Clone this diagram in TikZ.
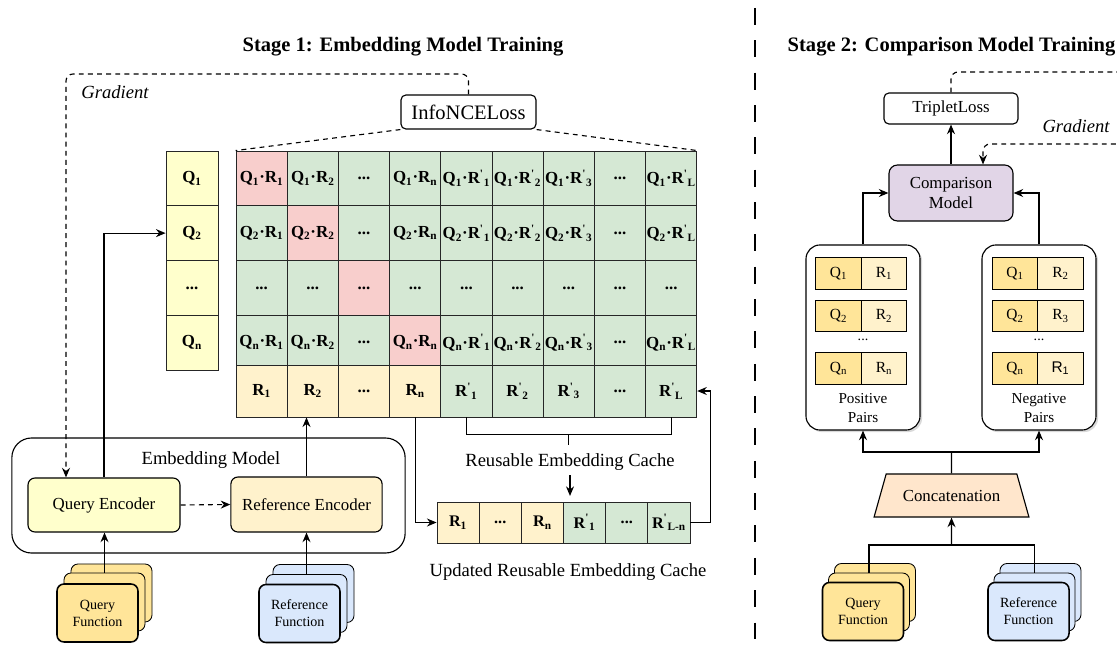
\documentclass[tikz,border=0pt]{standalone}
\usepackage{fontspec}
\setmainfont{Liberation Serif}
\newfontfamily\sansf{Liberation Sans}
\usepackage{tikz}
\usetikzlibrary{arrows.meta, positioning, calc, shapes.geometric, shadows}
\definecolor{qyel}{HTML}{FFFFCC}
\definecolor{ryel}{HTML}{FFF2CC}
\definecolor{grnc}{HTML}{D5E8D4}
\definecolor{redc}{HTML}{F8CECC}
\definecolor{qfun}{HTML}{FFE599}
\definecolor{bfun}{HTML}{DAE8FC}
\definecolor{cmpc}{HTML}{E1D5E7}
\definecolor{catc}{HTML}{FFE6CC}
\newcommand\pr{\textsuperscript{\textquotesingle}}
\newcommand\dts{...}

\begin{document}
\begin{tikzpicture}[
  x=0.025cm, y=-0.025cm,
  font=\fontsize{12}{14}\selectfont,
  ln/.style={line width=0.8pt},
  ar/.style={ln, -{Stealth[length=2.4mm, width=2mm]}},
  grad/.style={ln, dash pattern=on 3.5pt off 3pt, rounded corners=5pt},
  ttl/.style={font=\fontsize{14.6}{17}\selectfont\bfseries},
  lbl/.style={font=\fontsize{13.2}{15}\selectfont},
  cell/.style={draw=black!85, line width=0.6pt, minimum width=1.28cm,
               minimum height=1.369cm, inner sep=0pt,
               font=\fontsize{12}{13}\selectfont\bfseries},
  qcell/.style={cell, fill=qyel, minimum width=1.3cm},
  rcell/.style={cell, minimum height=1.3cm},
  ucell/.style={cell, minimum width=1.055cm, minimum height=1.025cm,
                font=\fontsize{11.5}{13}\selectfont\bfseries},
  box/.style={draw, ln, rounded corners=5pt, align=center},
  fun/.style={box, line width=1.1pt, minimum width=2.025cm, minimum height=1.45cm,
              font=\fontsize{10}{12}\selectfont},
  funb/.style={fun, line width=0.6pt},
  pcell/.style={draw, ln, minimum width=1.14cm, minimum height=0.78cm, inner sep=0pt,
                font=\fontsize{11}{12}\selectfont},
  pairs/.style={box, rounded corners=10pt, minimum width=2.85cm, minimum height=4.625cm,
                fill=white, drop shadow={opacity=0.3, shadow xshift=1.5pt, shadow yshift=-1.5pt}}
]
\useasboundingbox (0,0) rectangle (1117,649);

% ================= divider =================
\draw[line width=1.8pt, dash pattern=on 12pt off 11pt] (755,8) -- (755,649);

% ================= STAGE 1 =================
\node[ttl] (t1) at (403,47) {Stage 1: Embedding Model Training};

\node[box, rounded corners=3.5pt, minimum width=3.375cm, minimum height=0.85cm,
      font=\fontsize{14.6}{17}\selectfont] (nce) at (468.5,112) {InfoNCELoss};

% --- query column ---
\foreach \r/\t in {1/Q\textsubscript{1}, 2/Q\textsubscript{2}, 3/\dts, 4/Q\textsubscript{n}}
  \node[qcell] (q\r) at (192, {151+54.75*(\r-0.5)}) {\t};

% --- similarity matrix ---
\foreach \r/\q in {1/1, 2/2, 4/n} {
  \foreach \c/\t in {1/{Q\textsubscript{\q}·R\textsubscript{1}}, 2/{Q\textsubscript{\q}·R\textsubscript{2}},
                     3/\dts, 4/{Q\textsubscript{\q}·R\textsubscript{n}},
                     5/{Q\textsubscript{\q}·R\pr\textsubscript{1}}, 6/{Q\textsubscript{\q}·R\pr\textsubscript{2}},
                     7/{Q\textsubscript{\q}·R\pr\textsubscript{3}}, 8/\dts,
                     9/{Q\textsubscript{\q}·R\pr\textsubscript{L}}} {
    \ifnum\r=\c \def\cf{redc}\else\def\cf{grnc}\fi
    \node[cell, fill=\cf] (m-\r-\c) at ({236+51.2*(\c-0.5)}, {151+54.75*(\r-0.5)}) {\t};
  }
}
\foreach \c in {1,...,9} {
  \ifnum\c=3 \def\cf{redc}\else\def\cf{grnc}\fi
  \node[cell, fill=\cf] (m-3-\c) at ({236+51.2*(\c-0.5)}, {151+54.75*2.5}) {\dts};
}

\draw[ln, dash pattern=on 3.5pt off 3pt] (nce.south west) -- (m-1-1.north west);
\draw[ln, dash pattern=on 3.5pt off 3pt] (nce.south east) -- (m-1-9.north east);

% --- reference row ---
\foreach \c/\t/\f in {1/R\textsubscript{1}/ryel, 2/R\textsubscript{2}/ryel, 3/\dts/ryel,
                      4/R\textsubscript{n}/ryel, 5/R\pr\textsubscript{1}/grnc,
                      6/R\pr\textsubscript{2}/grnc, 7/R\pr\textsubscript{3}/grnc,
                      8/\dts/grnc, 9/R\pr\textsubscript{L}/grnc}
  \node[rcell, fill=\f] (r\c) at ({236+51.2*(\c-0.5)}, 391) {\t};

% --- cache brace ---
\draw[ln] (r5.south) -- ++(0,17) -| (r9.south);
\draw[ln] ($(r5.south)!0.5!(r9.south)$) ++(0,17) -- ++(0,11);
\node[lbl] (cachelbl) at (570,462) {Reusable Embedding Cache};

% --- updated cache ---
\foreach \c/\t/\f in {1/R\textsubscript{1}/ryel, 2/\dts/ryel, 3/R\textsubscript{n}/ryel,
                      4/R\pr\textsubscript{1}/grnc, 5/\dts/grnc, 6/R\pr\textsubscript{L-n}/grnc}
  \node[ucell, fill=\f] (u\c) at ({437+42.17*(\c-0.5)}, 522.5) {\t};
\node[lbl] (updlbl) at (568,572) {Updated Reusable Embedding Cache};

\draw[ar, shorten >=4pt] (cachelbl.south) -- (cachelbl.south |- u1.north);
\draw[ar] (r4.south) |- (u1.west);
\draw[ar] (u6.east) -- ++(20,0) |- (r9.east);

% --- embedding model ---
\node[draw, ln, rounded corners=14pt, minimum width=9.83cm, minimum height=2.875cm]
  (emb) at (208.5,495.5) {};
\node[font=\fontsize{13.2}{15}\selectfont] (emblbl) at (211,460) {Embedding Model};
\node[box, fill=qyel, minimum width=3.8cm, minimum height=1.35cm] (qenc) at (104,505) {Query Encoder};
\node[box, fill=ryel, minimum width=3.78cm, minimum height=1.375cm] (renc) at (306.5,504.5) {Reference Encoder};

\draw[ar, dash pattern=on 3.5pt off 3pt] (qenc.east) -- (renc.west);
\draw[ar] (qenc.north) |- (q2.west);
\draw[ar] (renc.north) -- (renc.north |- r2.south);

% --- function stacks ---
\node[funb, fill=qfun] (qf3) at (111.5,593) {};
\node[funb, fill=qfun] (qf2) at (104.5,602) {};
\node[fun,  fill=qfun] (qf)  at (97.5,613) {Query\\Function};
\node[funb, fill=bfun] (rf3) at (313.5,593.5) {};
\node[funb, fill=bfun] (rf2) at (306.5,603.5) {};
\node[fun,  fill=bfun] (rf)  at (299.5,613.5) {Reference\\Function};

\draw[ar] (qf2.north) -- (qenc.south -| qf2.north);
\draw[ar] (rf2.north) -- (renc.south -| rf2.north);

% --- gradient ---
\coordinate (g1) at (66,74);
\draw[grad, ar] (nce.north) |- (g1) -- (g1 |- qenc.north);
\node[font=\fontsize{13.2}{15}\selectfont\itshape] (gr1) at (115,92) {Gradient};

% ================= STAGE 2 =================
\node[ttl] (t2) at (951.5,47) {Stage 2: Comparison Model Training};

\node[box, rounded corners=3.5pt, minimum width=3.35cm, minimum height=0.775cm] (tl) at (951,108.5) {TripletLoss};
\node[box, fill=cmpc, rounded corners=6pt, minimum width=3.1cm, minimum height=1.4cm] (cmp) at (951,193) {Comparison\\Model};
\draw[ar] (cmp.north) -- (tl.south);

\coordinate (g2) at (1125,72);
\coordinate (g3) at (1125,144);
\coordinate (g4) at (983,144);
\draw[grad] (tl.north) |- (g2);
\draw[grad, ar] (g3) -- (g4) -- (g4 |- cmp.north);
\node[font=\fontsize{13.2}{15}\selectfont\itshape] (gr2) at (1076,126) {Gradient};

% --- pair sets ---
\node[pairs] (pos) at (863,337.5) {};
\node[pairs] (neg) at (1039,337.5) {};

\foreach \r/\y/\a/\b in {1/273.5/1/1, 2/316/2/2, 3/368.5/n/n} {
  \node[pcell, fill=qfun] (pq\r) at (838.5,\y) {Q\textsubscript{\a}};
  \node[pcell, fill=ryel] (pr\r) at (884,\y) {R\textsubscript{\b}};
}
\foreach \r/\y/\a/\b in {1/273.5/1/2, 2/316/2/3} {
  \node[pcell, fill=qfun] (nq\r) at (1015,\y) {Q\textsubscript{\a}};
  \node[pcell, fill=ryel] (nr\r) at (1060.5,\y) {R\textsubscript{\b}};
}
\node[pcell, fill=qfun] (nq3) at (1015,368.5) {Q\textsubscript{n}};
\node[pcell, fill=ryel] (nr3) at (1060.5,368.5) {\sansf R\textsubscript{1}};

\node[font=\fontsize{10}{12}\selectfont] (pdots) at (863,340) {...};
\node[font=\fontsize{10}{12}\selectfont] (ndots) at (1039,340) {...};
\node[align=center, font=\fontsize{10.8}{13}\selectfont] (plbl) at (863,408) {Positive\\Pairs};
\node[align=center, font=\fontsize{10.8}{13}\selectfont] (nlbl) at (1039,408) {Negative\\Pairs};

\draw[ar] (pos.north) |- (cmp.west);
\draw[ar] (neg.north) |- (cmp.east);

% --- concatenation ---
\node[draw, ln, trapezium, trapezium left angle=64.5, trapezium right angle=64.5,
      trapezium stretches=true, minimum width=3.875cm, minimum height=1.075cm,
      fill=catc] (cat) at (951.5,495.5) {Concatenation};
\coordinate (js) at (951.5,452);
\draw[ln] (cat.north) -- (js);
\draw[ar] (js) -| (pos.south);
\draw[ar] (js) -| (neg.south);

% --- function stacks ---
\node[funb, fill=qfun] (sqf3) at (875,592.5) {};
\node[funb, fill=qfun] (sqf2) at (869,602) {};
\node[fun,  fill=qfun] (sqf)  at (863,611.5) {Query\\Function};
\node[funb, fill=bfun] (srf3) at (1040.5,592.5) {};
\node[funb, fill=bfun] (srf2) at (1034.5,602) {};
\node[fun,  fill=bfun] (srf)  at (1028.5,611.5) {Reference\\Function};

\coordinate (jn) at (951.5,545);
\draw[ln] (sqf2.north) |- (jn) -| (srf2.north);
\draw[ar] (jn) -- (cat.south);

\end{tikzpicture}
\end{document}
